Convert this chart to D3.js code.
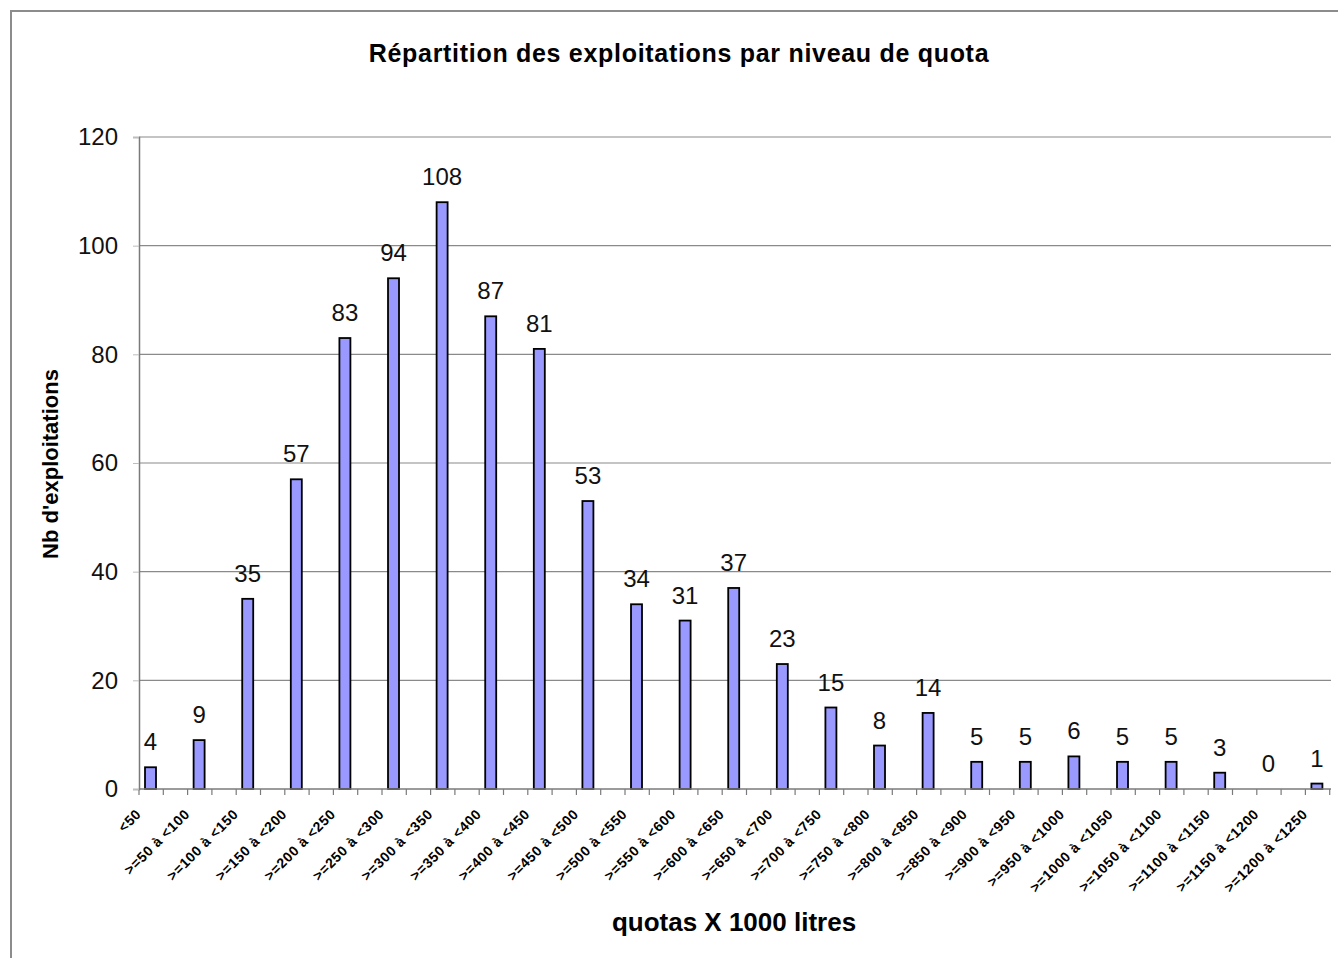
<!DOCTYPE html>
<html>
<head>
<meta charset="utf-8">
<script src="https://cdn.jsdelivr.net/npm/d3@7"></script>
<style>
  body { margin: 0; background: #fff; }
  svg { display: block; font-family: "Liberation Sans", Arial, sans-serif; }
</style>
</head>
<body>
<div id="chart"></div>
<script>
// categories (quota classes, x 1000 litres)
const categories = [
  '<50', '>=50 à <100', '>=100 à <150', '>=150 à <200', '>=200 à <250',
  '>=250 à <300', '>=300 à <350', '>=350 à <400', '>=400 à <450', '>=450 à <500',
  '>=500 à <550', '>=550 à <600', '>=600 à <650', '>=650 à <700', '>=700 à <750',
  '>=750 à <800', '>=800 à <850', '>=850 à <900', '>=900 à <950', '>=950 à <1000',
  '>=1000 à <1050', '>=1050 à <1100', '>=1100 à <1150', '>=1150 à <1200', '>=1200 à <1250'
];
const counts = [4, 9, 35, 57, 83, 94, 108, 87, 81, 53, 34, 31, 37, 23, 15, 8, 14, 5, 5, 6, 5, 5, 3, 0, 1];
const yTicks = [0, 20, 40, 60, 80, 100, 120];

const width = 1338;
const height = 958;
const plot = { left: 139, top: 137, bottom: 789, right: 1354, clipRight: 1331 };

const svg = d3.select('#chart')
  .append('svg')
  .attr('width', width)
  .attr('height', height);

// outer frame (only top and left edges are visible in the crop)
svg.append('path')
  .attr('d', `M11,${height} V11 H${width}`)
  .attr('fill', 'none')
  .attr('stroke', '#8c8c8c')
  .attr('stroke-width', 2);

const x = d3.scaleBand()
  .domain(categories)
  .range([plot.left, plot.right])
  .paddingInner(0)
  .paddingOuter(0);

// a second (empty) series in the original chart leaves each bar in the left half of its band
const x1 = d3.scaleBand()
  .domain(['a', 'b'])
  .range([0, x.bandwidth()])
  .paddingInner(0.1)
  .paddingOuter(0);

const y = d3.scaleLinear().domain([0, 120]).range([plot.bottom, plot.top]);

svg.append('defs').append('clipPath').attr('id', 'clip')
  .append('rect')
  .attr('x', plot.left - 10).attr('y', 0)
  .attr('width', plot.clipRight - plot.left + 10).attr('height', height);

const g = svg.append('g').attr('clip-path', 'url(#clip)');

// gridlines
g.append('g')
  .selectAll('line')
  .data(yTicks.filter(d => d > 0))
  .join('line')
  .attr('x1', plot.left)
  .attr('x2', plot.clipRight)
  .attr('y1', d => y(d))
  .attr('y2', d => y(d))
  .attr('stroke', '#8a8a8a')
  .attr('stroke-width', 1.2);

const rows = categories.map((c, i) => ({ c, v: counts[i] }));
const barCenter = d => x(d.c) + x1('a') + x1.bandwidth() / 2;

// bars
const bw = 11;
g.append('g')
  .selectAll('rect')
  .data(rows)
  .join('rect')
  .attr('x', d => barCenter(d) - bw / 2)
  .attr('y', d => y(d.v))
  .attr('width', bw)
  .attr('height', d => y(0) - y(d.v))
  .attr('fill', '#9999ff')
  .attr('stroke', '#000')
  .attr('stroke-width', 1.8)
  .style('display', d => d.v === 0 ? 'none' : null);

// value labels
g.append('g')
  .selectAll('text')
  .data(rows)
  .join('text')
  .attr('x', barCenter)
  .attr('y', d => y(d.v) - 17)
  .attr('text-anchor', 'middle')
  .attr('font-size', 24)
  .attr('fill', '#111')
  .text(d => d.v);

// x axis: ticks every half band (the original has two category slots per class)
const halfTicks = d3.range(0, categories.length * 2 + 1).map(k => plot.left + k * x.bandwidth() / 2);
g.append('line')
  .attr('x1', plot.left).attr('x2', plot.clipRight)
  .attr('y1', plot.bottom).attr('y2', plot.bottom)
  .attr('stroke', '#7a7a7a').attr('stroke-width', 1.5);
g.append('g')
  .selectAll('line')
  .data(halfTicks)
  .join('line')
  .attr('x1', d => d).attr('x2', d => d)
  .attr('y1', plot.bottom).attr('y2', plot.bottom + 6)
  .attr('stroke', '#7a7a7a').attr('stroke-width', 1.2);

// x tick labels
svg.append('g')
  .selectAll('text')
  .data(categories)
  .join('text')
  .attr('transform', d => `translate(${x(d) + 3},${plot.bottom + 26}) rotate(-45)`)
  .attr('text-anchor', 'end')
  .attr('font-size', 14)
  .attr('font-weight', 'bold')
  .attr('letter-spacing', 0.6)
  .attr('fill', '#000')
  .text(d => d);

// y axis
const yAxis = d3.axisLeft(y).tickValues(yTicks).tickSize(6).tickPadding(15);
svg.append('g')
  .attr('transform', `translate(${plot.left},0)`)
  .call(yAxis)
  .call(s => s.selectAll('path.domain').attr('stroke', '#7a7a7a').attr('stroke-width', 1.5))
  .call(s => s.selectAll('.tick line').attr('stroke', '#bdbdbd'))
  .call(s => s.selectAll('.tick text')
    .attr('font-size', 24)
    .attr('fill', '#111')
    .attr('font-family', '"Liberation Sans", Arial, sans-serif'));

// titles
svg.append('text')
  .attr('x', 679).attr('y', 62)
  .attr('text-anchor', 'middle')
  .attr('font-size', 25).attr('font-weight', 'bold')
  .attr('letter-spacing', 0.7)
  .text('Répartition des exploitations par niveau de quota');

svg.append('text')
  .attr('transform', 'translate(58,464) rotate(-90)')
  .attr('text-anchor', 'middle')
  .attr('font-size', 22).attr('font-weight', 'bold')
  .text("Nb d'exploitations");

svg.append('text')
  .attr('x', 734).attr('y', 931)
  .attr('text-anchor', 'middle')
  .attr('font-size', 26).attr('font-weight', 'bold')
  .text('quotas X 1000 litres');
</script>
</body>
</html>
